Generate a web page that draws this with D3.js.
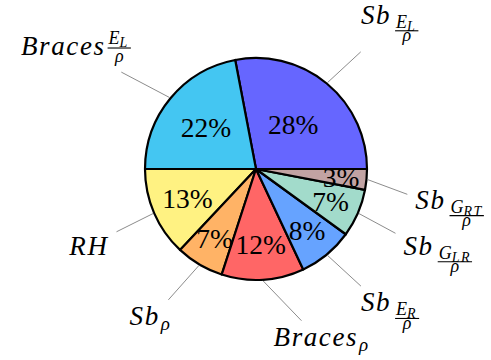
<!DOCTYPE html>
<html>
<head>
<meta charset="utf-8">
<script src="https://cdn.jsdelivr.net/npm/d3@7"></script>
</head>
<body style="margin:0;background:#fff">
<svg id="pie-figure" width="491" height="360" font-family="Liberation Serif"></svg>
<script>
// Slice labels written in TeX notation, values in percent
const categories = [
  "Sb_{\\frac{E_L}{\\rho}}",
  "Braces\\frac{E_L}{\\rho}",
  "RH",
  "Sb_\\rho",
  "Braces_\\rho",
  "Sb_{\\frac{E_R}{\\rho}}",
  "Sb_{\\frac{G_{LR}}{\\rho}}",
  "Sb_{\\frac{G_{RT}}{\\rho}}"
];
const values = [28, 22, 13, 7, 12, 8, 7, 3];
const sliceColors = ["#6666ff", "#44c6f2", "#fff282", "#ffb366", "#ff6666", "#66a3ff", "#a2dbcb", "#c2a3a3"];

const FONT = "Liberation Serif";
const cx = 256, cy = 169, R = 111;
const pinDistance = 40, innerSepX = 8, innerSepY = 7;

function draw() {
  const svg = d3.select("#pie-figure");
  const root = svg.append("g").attr("transform", `translate(${cx},${cy})`);

  // Counter-clockwise from 3 o'clock
  const pie = d3.pie().sort(null).value(d => d)
    .startAngle(Math.PI / 2).endAngle(Math.PI / 2 - 2 * Math.PI);
  const arcs = pie(values);
  const arc = d3.arc().innerRadius(0).outerRadius(R);

  root.selectAll("path.slice").data(arcs).join("path")
    .attr("class", "slice").attr("d", arc)
    .attr("fill", (d, i) => sliceColors[i])
    .attr("stroke", "#000").attr("stroke-width", 2.2).attr("stroke-linejoin", "round");

  // math angle (deg, ccw from east) of a slice's middle
  const midDeg = d => {
    const m = (d.startAngle + d.endAngle) / 2;
    const t = 90 - m * 180 / Math.PI;
    return ((t % 360) + 360) % 360;
  };
  const spanDeg = d => Math.abs(d.endAngle - d.startAngle) * 180 / Math.PI;
  const polar = (deg, r) => [r * Math.cos(deg * Math.PI / 180), -r * Math.sin(deg * Math.PI / 180)];

  // percentage inside each slice; narrow slices push the number outward
  root.selectAll("text.pct").data(arcs).join("text")
    .attr("class", "pct").attr("font-family", FONT)
    .attr("text-anchor", "middle").attr("dy", "0.35em").attr("font-size", 27.5)
    .attr("transform", d => {
      const r = R * (0.8 + Math.min(-0.3 * spanDeg(d) / 110, 0));
      const [x, y] = polar(midDeg(d), r);
      return `translate(${x},${y})`;
    })
    .text(d => d.data + "%");

  const mathText = (sel, size) => sel.append("text")
    .attr("font-family", FONT).attr("font-style", "italic").attr("font-size", size);

  // Render a small TeX label into a group, return its box (baseline at y=0)
  function buildLabel(sel, tex) {
    const base = tex.match(/^[A-Za-z]+/)[0];
    const frac = tex.match(/\\frac\{(\w)_\{?(\w+)\}?\}\{\\rho\}/);
    const inSub = tex.charAt(base.length) === "_";
    const box = { x0: 0, x1: 0, y0: -0.68 * 27, y1: 0 };
    const t = mathText(sel, 27).attr("letter-spacing", 1.6).text(base);
    const x = t.node().getComputedTextLength();
    box.x1 = x;
    if (frac) {
      const barY = inSub ? 7 : -6.5;
      const numGap = inSub ? 3 : 4.5;
      const denOff = inSub ? 10.5 : 13.5;
      const fx = x + (inSub ? 4 : 2);
      const num = mathText(sel, 18).attr("x", fx + 1).attr("y", barY - numGap);
      num.append("tspan").text(frac[1]);
      num.append("tspan").attr("dy", 3).attr("font-size", 14).attr("letter-spacing", 1.5).text(frac[2]);
      const bw = num.node().getBBox().width + 2;
      sel.append("line").attr("x1", fx).attr("x2", fx + bw).attr("y1", barY).attr("y2", barY)
        .attr("stroke", "#000").attr("stroke-width", 1.1);
      mathText(sel, 18).attr("x", fx + bw / 2).attr("y", barY + denOff).attr("text-anchor", "middle").text("ρ");
      box.x1 = fx + bw;
      box.y0 = Math.min(box.y0, barY - numGap - 0.68 * 18);
      box.y1 = Math.max(box.y1, barY + denOff + 0.2 * 18);
    } else if (inSub) {
      mathText(sel, 19).attr("x", x + 1).attr("y", 5).text("ρ");
      box.x1 = x + 1 + 19 * 0.52;
      box.y1 = 5 + 0.2 * 19;
    }
    return box;
  }

  // Pin labels: anchor corner chosen by quadrant, edge drawn toward label centre
  const pins = root.append("g").attr("class", "pins");
  arcs.forEach((d, i) => {
    const th = midDeg(d);
    const [px, py] = polar(th, R + 1);
    const [ux, uy] = polar(th, 1);
    const ax = px + pinDistance * ux, ay = py + pinDistance * uy;

    const lg = pins.append("g");
    const b = buildLabel(lg, categories[i]);
    const bx0 = b.x0 - innerSepX, bx1 = b.x1 + innerSepX;
    const by0 = b.y0 - innerSepY, by1 = b.y1 + innerSepY;
    const mx = (bx0 + bx1) / 2, my = (by0 + by1) / 2;

    let anc;
    if (th === 0) anc = [bx0, my];
    else if (th < 90) anc = [bx0, by1];
    else if (th === 90) anc = [mx, by1];
    else if (th < 180) anc = [bx1, by1];
    else if (th === 180) anc = [bx1, my];
    else if (th < 270) anc = [bx1, by0];
    else if (th === 270) anc = [mx, by0];
    else anc = [bx0, by0];

    const tx = ax - anc[0], ty = ay - anc[1];
    lg.attr("transform", `translate(${tx},${ty})`);

    // clip the edge at the label's outer box
    const X0 = bx0 + tx, X1 = bx1 + tx, Y0 = by0 + ty, Y1 = by1 + ty;
    const dx = mx + tx - px, dy = my + ty - py;
    let tEnter = 0;
    if (dx !== 0) tEnter = Math.max(tEnter, ((dx > 0 ? X0 : X1) - px) / dx);
    if (dy !== 0) tEnter = Math.max(tEnter, ((dy > 0 ? Y0 : Y1) - py) / dy);
    pins.insert("line", ":first-child")
      .attr("x1", px).attr("y1", py)
      .attr("x2", px + tEnter * dx).attr("y2", py + tEnter * dy)
      .attr("stroke", "#8c8c8c").attr("stroke-width", 1);
  });
}

if (document.readyState === "complete") draw();
else window.addEventListener("load", draw);
</script>
</body>
</html>
